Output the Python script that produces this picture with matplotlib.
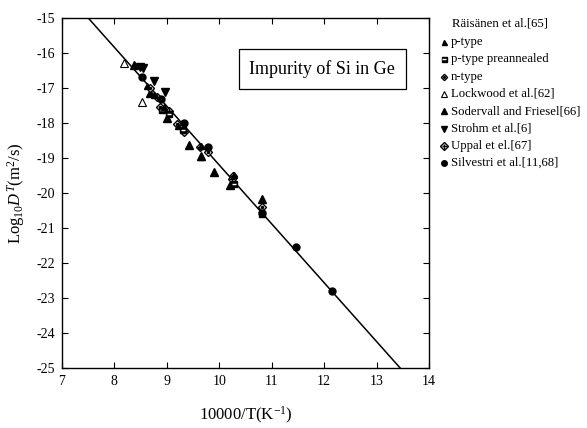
import matplotlib
matplotlib.use('Agg')
import matplotlib.pyplot as plt

plt.rcParams['font.family'] = ['Liberation Serif', 'DejaVu Serif']
plt.rcParams['mathtext.fontset'] = 'custom'
plt.rcParams['mathtext.rm'] = 'Liberation Serif'
plt.rcParams['mathtext.it'] = 'Liberation Serif:italic'
plt.rcParams['axes.unicode_minus'] = False

# fitted Arrhenius line (end points)
line_x = [7.5, 13.45]
line_y = [-15.0, -25.0]

# Raisanen et al. [65]
ptype_x = [8.62, 8.75, 8.95, 9.22, 9.65, 9.65, 10.29]
ptype_y = [-16.95, -17.2, -17.55, -18.1, -18.66, -18.96, -19.49]
preann_x = [8.9, 9.05, 9.3, 10.28, 10.82]
preann_y = [-17.63, -17.75, -18.2, -19.74, -20.6]
ntype_x = [8.67, 8.87, 9.2, 9.33, 9.79, 10.27, 10.82]
ntype_y = [-17.01, -17.53, -18.03, -18.25, -18.82, -19.51, -20.41]

lockwood_x = [8.19, 8.53]
lockwood_y = [-16.29, -17.39]
soderv_x = [8.37, 8.68, 9.01, 9.42, 9.65, 9.89, 10.21, 10.81]
soderv_y = [-16.35, -17.15, -17.87, -18.63, -18.94, -19.39, -19.77, -20.17]
strohm_x = [8.49, 8.54, 8.76, 8.97]
strohm_y = [-16.39, -16.42, -16.8, -17.12]
uppal_x = [8.81, 9.05, 9.63, 10.25]
uppal_y = [-17.25, -17.65, -18.7, -19.6]
silv_x = [8.53, 8.88, 9.33, 9.78, 10.82, 11.46, 12.15]
silv_y = [-16.7, -17.32, -17.99, -18.69, -20.58, -21.55, -22.8]

legend_labels = ['p-type', 'p-type preannealed', 'n-type', 'Lockwood et al.[62]',
                 'Sodervall and Friesel[66]', 'Strohm et al.[6]', 'Uppal et el.[67]',
                 'Silvestri et al.[11,68]']

fig = plt.figure(figsize=(5.87, 4.28), dpi=100)
ax = fig.add_axes([0.1056, 0.1402, 0.6252, 0.8178])


def draw(a, x, y, kind, size=1.0):
    kw = dict(linestyle='none', clip_on=False)
    if kind == 'ptype':
        a.plot(x, y, marker='^', ms=4.5 * size, color='black', **kw)
    elif kind == 'preann':
        a.plot(x, y, marker='s', ms=4.5 * size, mfc='black', mec='black', **kw)
        a.plot(x, y, marker='_', ms=3 * size, mew=1, color='white', **kw)
    elif kind == 'ntype':
        a.plot(x, y, marker='D', ms=4 * size, mfc='white', mec='black', mew=1, **kw)
        a.plot(x, y, marker='o', ms=1.5 * size, color='black', **kw)
    elif kind == 'lockwood':
        a.plot(x, y, marker='^', ms=5.5 * size, mfc='white', mec='black', mew=0.8, **kw)
    elif kind == 'soderv':
        a.plot(x, y, marker='^', ms=5.5 * size, color='black', **kw)
    elif kind == 'strohm':
        a.plot(x, y, marker='v', ms=5.5 * size, color='black', **kw)
    elif kind == 'uppal':
        a.plot(x, y, marker='D', ms=4.5 * size, mfc='white', mec='black', mew=1, **kw)
        a.plot(x, y, marker='+', ms=4.5 * size, mew=1, color='black', **kw)
    elif kind == 'silv':
        a.plot(x, y, marker='o', ms=5 * size, color='black', **kw)


ax.plot(line_x, line_y, color='black', lw=1.1)
draw(ax, lockwood_x, lockwood_y, 'lockwood')
draw(ax, soderv_x, soderv_y, 'soderv')
draw(ax, strohm_x, strohm_y, 'strohm')
draw(ax, ntype_x, ntype_y, 'ntype')
draw(ax, uppal_x, uppal_y, 'uppal')
draw(ax, preann_x, preann_y, 'preann')
draw(ax, silv_x, silv_y, 'silv')
draw(ax, ptype_x, ptype_y, 'ptype')

ax.set_xlim(7, 14)
ax.set_ylim(-25, -15)
ax.set_xticks(range(7, 15))
ax.set_yticks(range(-25, -14))
ax.tick_params(direction='in', top=True, right=True, length=4, width=0.8,
               labelsize=10, pad=5)
for s in ax.spines.values():
    s.set_linewidth(1.0)

ax.set_xlabel('10000/T(K$^{-1}$)', fontsize=12, labelpad=12)
ax.set_ylabel('Log$_{10}$$\\mathit{D}^{T}$(m$^{2}$/s)', fontsize=12, labelpad=7)

ax.text(0.908, 0.854, 'Impurity of Si in Ge', transform=ax.transAxes,
        ha='right', va='center', fontsize=13,
        bbox=dict(boxstyle='square,pad=0.6', fc='white', ec='black', lw=0.9))

# legend outside the axes on the right
fig.text(452 / 587, 1 - 24 / 428, 'Räisänen et al.[65]', fontsize=9.2,
         va='center', ha='left')
kinds = ['ptype', 'preann', 'ntype', 'lockwood', 'soderv', 'strohm', 'uppal', 'silv']
lax = fig.add_axes([0, 0, 1, 1], facecolor='none')
lax.set_xlim(0, 587)
lax.set_ylim(428, 0)
lax.axis('off')
for i, (k, lab) in enumerate(zip(kinds, legend_labels)):
    yy = 42 + i * 17.3
    draw(lax, [444], [yy], k, size=0.8)
    lax.text(451, yy, lab, fontsize=9.2, va='center', ha='left')

fig.savefig('out.png', dpi=100)
